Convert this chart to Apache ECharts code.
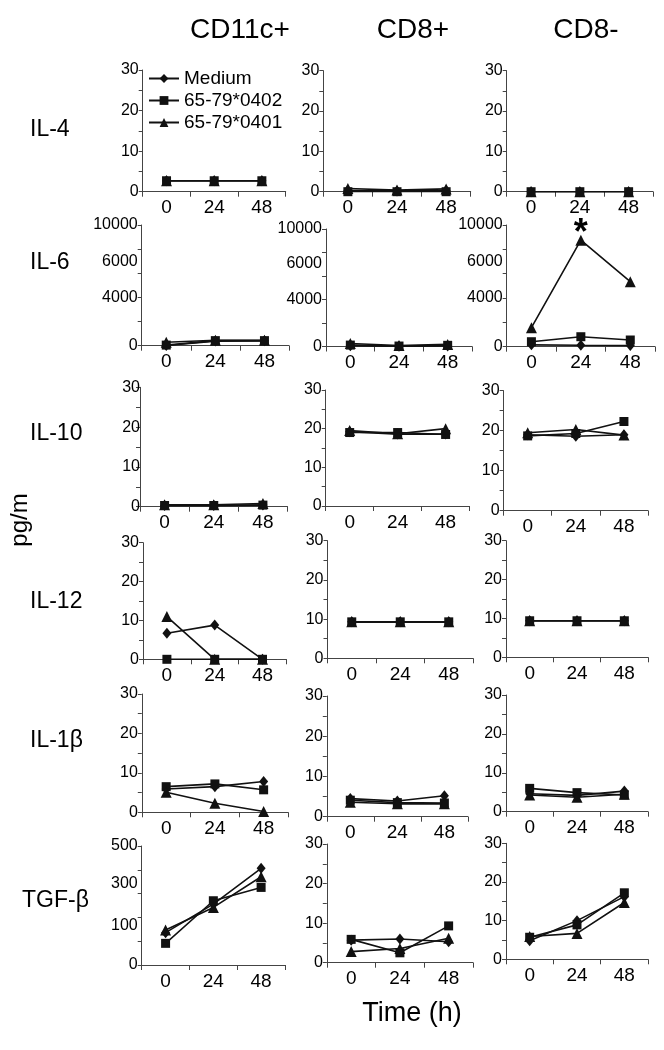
<!DOCTYPE html>
<html><head><meta charset="utf-8">
<script src="https://cdn.jsdelivr.net/npm/echarts@6/dist/echarts.min.js"></script>
<style>html,body{margin:0;padding:0;background:#fff}#c{width:664px;height:1050px}</style>
</head><body><div id="c"></div>
<script>
// ---------- data ----------
const times = ['0', '24', '48'];
const seriesNames = ['Medium', '65-79*0402', '65-79*0401'];
const cellTypes = ['CD11c+', 'CD8+', 'CD8-'];
const cytokines = ['IL-4', 'IL-6', 'IL-10', 'IL-12', 'IL-1β', 'TGF-β'];

// each panel: [Medium, 65-79*0402, 65-79*0401] values at 0, 24, 48 h
const IL4_CD11c = [[2.7, 2.7, 2.7], [2.7, 2.7, 2.7], [2.7, 2.7, 2.7]];
const IL4_CD8p  = [[0.3, 0.2, 0.3], [0, 0, 0], [0.8, 0.4, 0.7]];
const IL4_CD8m  = [[0, 0, 0], [0, 0, 0], [0, 0, 0]];
const IL6_CD11c = [[20, 380, 400], [50, 420, 420], [280, 450, 450]];
const IL6_CD8p  = [[60, 20, 50], [120, 40, 100], [250, 80, 180]];
const IL6_CD8m  = [[150, 120, 100], [410, 820, 550], [1560, 8750, 5340]];
const IL10_CD11c = [[0.3, 0.3, 0.4], [0.3, 0.3, 0.4], [0.5, 0.5, 0.8]];
const IL10_CD8p  = [[19.2, 18.6, 18.6], [19.0, 19.0, 18.5], [19.5, 18.7, 20.0]];
const IL10_CD8m  = [[19.0, 18.6, 19.0], [18.7, 19.3, 22.3], [19.5, 20.3, 18.9]];
const IL12_CD11c = [[6.7, 8.8, 0], [0, 0, 0], [11.0, 0, 0]];
const IL12_CD8p  = [[9.3, 9.3, 9.3], [9.3, 9.3, 9.3], [9.3, 9.3, 9.3]];
const IL12_CD8m  = [[9.4, 9.4, 9.4], [9.4, 9.4, 9.4], [9.4, 9.4, 9.4]];
const IL1b_CD11c = [[5.9, 6.5, 7.8], [6.5, 7.2, 5.7], [5.1, 2.3, 0.2]];
const IL1b_CD8p  = [[4.5, 3.9, 5.2], [4.1, 3.5, 3.4], [3.6, 3.2, 3.2]];
const IL1b_CD8m  = [[4.6, 4.2, 5.3], [6.0, 4.9, 4.3], [4.3, 3.7, 4.5]];
const TGFb_CD11c = [[136, 256, 406], [91, 270, 326], [147, 242, 371]];
const TGFb_CD8p  = [[5.7, 6.0, 5.3], [5.9, 2.5, 9.3], [2.8, 3.6, 6.2]];
const TGFb_CD8m  = [[4.8, 10.0, 16.2], [5.7, 8.9, 17.2], [5.9, 6.7, 14.7]];

// y-axis scales and tick labels
const scale30 = {max: 30, interval: 5, labels: [0, 10, 20, 30]};
const scaleIL6 = {max: 10000, interval: 2000, labels: [0, 4000, 6000, 10000]};
const scaleTGF = {max: 500, interval: 100, labels: [0, 100, 300, 500]};

const panelData = [
  [IL4_CD11c, IL4_CD8p, IL4_CD8m],
  [IL6_CD11c, IL6_CD8p, IL6_CD8m],
  [IL10_CD11c, IL10_CD8p, IL10_CD8m],
  [IL12_CD11c, IL12_CD8p, IL12_CD8m],
  [IL1b_CD11c, IL1b_CD8p, IL1b_CD8m],
  [TGFb_CD11c, TGFb_CD8p, TGFb_CD8m]
];
const panelScale = [
  [scale30, scale30, scale30],
  [scaleIL6, scaleIL6, scaleIL6],
  [scale30, scale30, scale30],
  [scale30, scale30, scale30],
  [scale30, scale30, scale30],
  [scaleTGF, scale30, scale30]
];
// significance marker: [row, col, series, timeIndex]
const starPoint = [1, 2, 2, 1];

// ---------- layout (pixels): left, right, top, zero line ----------
const layout = [
  [[142.7, 285.7, 70, 191.7], [323.3, 470.7, 70.7, 191.7], [506.7, 653, 70.7, 191.7]],
  [[141.7, 289, 225, 345.7], [326, 472, 229, 346.5], [506.7, 655, 225, 346.7]],
  [[140, 287.5, 387.3, 506.7], [325.7, 469.6, 390, 506], [503.6, 648, 390.7, 510.7]],
  [[143, 286.4, 542.7, 659.3], [327.5, 473, 540.7, 658.3], [506, 648, 540.7, 657.3]],
  [[141.8, 288, 694, 812.3], [326.8, 467.9, 696, 816.7], [506, 648, 695, 811.7]],
  [[141.7, 285, 846, 965], [326.8, 473, 844, 962.7], [506, 648, 843.3, 959.3]]
];
// which series sits on top in each panel
const topSeries = [[1, 1, 1], [2, 2, 2], [2, 2, 2], [2, 2, 2], [2, 2, 2], [2, 2, 2]];
// labels drawn raised (as in the reference): value -> padding
const raisedLabels = {6000: 24, 300: 20, 100: 32};
const raisedRows = [1, 5];

const FONT = "'Liberation Sans', Arial, sans-serif";
const INK = '#111';
const symbols = ['diamond', 'rect', 'triangle'];
const symbolSizes = [[9, 11], 9, 11];

const grid = [], xAxis = [], yAxis = [], series = [];
for (let r = 0; r < 6; r++) {
  for (let c = 0; c < 3; c++) {
    const p = r * 3 + c;
    const [l, rt, t, z] = layout[r][c];
    const sc = panelScale[r][c];
    const raise = raisedRows.includes(r) && !(r === 5 && c > 0);
    grid.push({left: l, top: t, width: rt - l, height: z - t, outerBoundsMode: 'none', containLabel: false});
    xAxis.push({
      type: 'category', gridIndex: p, data: times, boundaryGap: true,
      axisLine: {show: true, lineStyle: {color: '#444', width: 1}},
      axisTick: {show: true, length: 5, lineStyle: {color: '#444'}},
      axisLabel: {fontSize: 19, fontFamily: FONT, color: '#000', margin: 7}
    });
    yAxis.push({
      type: 'value', gridIndex: p, min: 0, max: sc.max, interval: sc.interval,
      splitLine: {show: false},
      axisLine: {show: true, lineStyle: {color: '#444', width: 1}},
      axisTick: {show: true, length: 4, lineStyle: {color: '#444'}},
      axisLabel: {
        fontSize: 16, fontFamily: FONT, color: '#000', margin: (r === 2 && c === 0) ? 0 : 4,
        formatter: v => {
          if (!sc.labels.includes(v)) return '';
          if (raise && raisedLabels[v]) return '{r' + raisedLabels[v] + '|' + v + '}';
          return String(v);
        },
        rich: {
          r24: {padding: [0, 0, 24, 0], fontSize: 16, fontFamily: FONT, color: '#000'},
          r20: {padding: [0, 0, 20, 0], fontSize: 16, fontFamily: FONT, color: '#000'},
          r32: {padding: [0, 0, 32, 0], fontSize: 16, fontFamily: FONT, color: '#000'}
        }
      }
    });
    for (let s = 0; s < 3; s++) {
      const vals = panelData[r][c][s];
      const data = vals.map((v, i) => {
        if (r === starPoint[0] && c === starPoint[1] && s === starPoint[2] && i === starPoint[3]) {
          return {value: v, label: {show: true, formatter: '*', position: 'top', distance: -17,
                  fontSize: 36, fontWeight: 'bold', fontFamily: FONT, color: '#000'}};
        }
        return v;
      });
      series.push({
        name: seriesNames[s], type: 'line', xAxisIndex: p, yAxisIndex: p, data,
        symbol: symbols[s], symbolSize: symbolSizes[s], showSymbol: true,
        z: topSeries[r][c] === s ? 4 : 2,
        lineStyle: {color: INK, width: 1.6},
        itemStyle: {color: INK, borderWidth: 0},
        emphasis: {disabled: true}, animation: false
      });
    }
  }
}

const graphic = [];
const titleX = [240, 413, 586];
cellTypes.forEach((t, i) => graphic.push({type: 'text', x: titleX[i], y: 30,
  style: {text: t, font: '28px ' + FONT, fill: '#000', textAlign: 'center', textVerticalAlign: 'middle'}}));
const rowY = [130, 263, 434, 602, 741, 901];
const rowX = [30, 30, 30, 30, 30, 22];
cytokines.forEach((t, i) => graphic.push({type: 'text', x: rowX[i], y: rowY[i],
  style: {text: t, font: '23px ' + FONT, fill: '#000', textAlign: 'left', textVerticalAlign: 'middle'}}));
graphic.push({type: 'text', x: 20, y: 520, rotation: Math.PI / 2,
  style: {text: 'pg/m', font: '24px ' + FONT, fill: '#000', textAlign: 'center', textVerticalAlign: 'middle'}});
graphic.push({type: 'text', x: 412, y: 1014,
  style: {text: 'Time (h)', font: '27px ' + FONT, fill: '#000', textAlign: 'center', textVerticalAlign: 'middle'}});

const chart = echarts.init(document.getElementById('c'), null, {renderer: 'canvas'});
chart.setOption({
  backgroundColor: '#fff',
  animation: false,
  legend: {
    data: seriesNames, orient: 'vertical', left: 143, top: 64, itemGap: 3,
    itemWidth: 30, itemHeight: 11,
    textStyle: {fontSize: 19, fontFamily: FONT, color: '#000'},
    selectedMode: false
  },
  grid, xAxis, yAxis, series, graphic
});
</script></body></html>
